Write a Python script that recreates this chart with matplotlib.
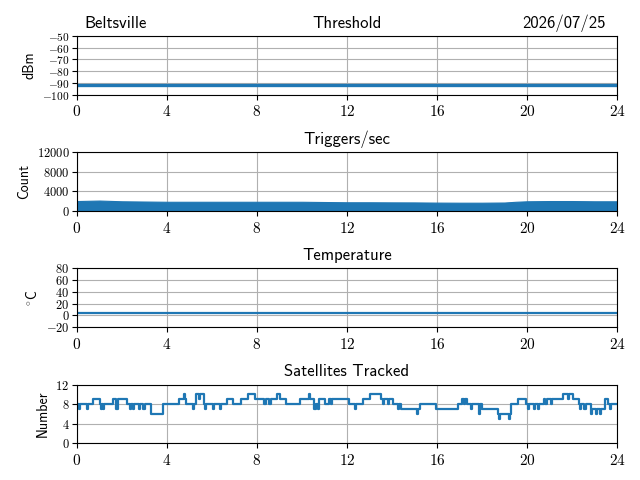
import matplotlib
matplotlib.use("Agg")
import matplotlib.pyplot as plt
from matplotlib.ticker import MultipleLocator, FuncFormatter

plt.rcParams['font.family'] = ['cmss10', 'DejaVu Sans']
plt.rcParams['mathtext.fontset'] = 'cm'
plt.rcParams['mathtext.default'] = 'rm'
plt.rcParams['axes.formatter.use_mathtext'] = True
plt.rcParams['axes.unicode_minus'] = True

# ---- data ----
station = "Beltsville"
date_label = "2026/07/25"
panel_titles = ["Threshold", "Triggers/sec", "Temperature", "Satellites Tracked"]
y_labels = ["dBm", "Count", r"$^{\circ}$C", "Number"]

hour_ticks = [0, 4, 8, 12, 16, 20, 24]

threshold_hours = [0, 24]
threshold_dbm = [-91.8, -91.8]

trigger_hours = [0, 0.5, 1, 2, 3, 4, 5, 6, 7, 8, 9, 10, 11, 12, 13, 14, 15,
                 16, 17, 18, 19, 19.5, 20, 21, 22, 23, 24]
trigger_counts = [2000, 2050, 2100, 1950, 1900, 1850, 1850, 1850, 1850, 1850,
                  1850, 1850, 1800, 1750, 1750, 1730, 1720, 1680, 1660, 1660,
                  1700, 1850, 1950, 2000, 2000, 1950, 1950]

temp_hours = [0, 24]
temp_c = [4.0, 4.0]

sat_hours = [0.0, 0.1, 0.15, 0.45, 0.5, 0.7, 1.0, 1.05, 1.1, 1.15, 1.2, 1.6,
             1.75, 1.8, 2.2, 2.35, 2.4, 2.5, 2.55, 2.75, 2.8, 2.95, 3.0, 3.3,
             3.8, 4.55, 4.75, 4.8, 4.85, 5.15, 5.2, 5.3, 5.4, 5.45, 5.65, 5.7,
             5.75, 6.05, 6.1, 6.35, 6.4, 6.65, 6.95, 7.3, 7.6, 7.9, 8.1, 8.3,
             8.4, 8.55, 8.6, 8.9, 9.0, 9.3, 9.9, 10.3, 10.35, 10.55, 10.6, 10.7,
             10.75, 11.0, 11.2, 11.3, 11.35, 12.1, 12.35, 12.4, 12.7, 13.0,
             13.5, 13.6, 13.65, 13.8, 13.85, 14.05, 14.25, 14.3, 14.4, 15.1,
             15.15, 15.25, 15.95, 16.95, 17.1, 17.2, 17.25, 17.35, 17.5, 17.55,
             17.85, 17.9, 18.0, 18.7, 18.75, 18.8, 19.2, 19.25, 19.3, 19.6,
             19.95, 20.05, 20.1, 20.3, 20.35, 20.5, 20.55, 20.75, 20.8, 20.9,
             21.05, 21.1, 21.6, 21.8, 21.85, 22.05, 22.3, 22.35, 22.4, 22.55,
             22.6, 22.85, 22.9, 23.05, 23.1, 23.25, 23.3, 23.45, 23.6, 23.7,
             23.75, 24.0]
sat_count = [8, 7, 8, 7, 8, 9, 8, 7, 8, 7, 8, 9,
             7, 9, 8, 7, 8, 7, 8, 7, 8, 7, 8, 6,
             8, 9, 10, 9, 8, 7, 8, 10, 9, 10, 8, 7,
             8, 7, 8, 7, 8, 9, 8, 9, 10, 9, 9, 8,
             9, 8, 9, 10, 9, 8, 9, 10, 9, 7, 8, 7,
             9, 8, 9, 8, 9, 8, 7, 8, 9, 10,
             9, 8, 9, 8, 9, 8, 7, 8, 7, 6,
             7, 8, 7, 8, 9, 8, 9, 8, 7, 8,
             6, 8, 7, 6, 5, 6, 5, 6, 8, 9,
             8, 7, 8, 7, 8, 7, 8, 9, 8, 9,
             8, 9, 10, 9, 10, 9, 8, 7, 8, 7,
             8, 6, 7, 6, 7, 6, 7, 9, 8, 7,
             8, 8]

# ---- figure ----
fig = plt.figure(figsize=(6.4, 4.8), dpi=100)
gs = fig.add_gridspec(4, 1, left=77/640, right=617/640, top=1-36/480,
                      bottom=1-443.3/480, hspace=0.985)
axes = [fig.add_subplot(gs[i]) for i in range(4)]
color = '#1f77b4'

math_fmt = FuncFormatter(lambda v, pos: r'$%d$' % round(v))

axes[0].plot(threshold_hours, threshold_dbm, color=color, lw=2.4)
axes[0].set_ylim(-100, -50)
axes[0].yaxis.set_major_locator(MultipleLocator(10))

axes[1].fill_between(trigger_hours, 0, trigger_counts, color=color, lw=0.8,
                     edgecolor=color)
axes[1].set_ylim(0, 12000)
axes[1].yaxis.set_major_locator(MultipleLocator(4000))

axes[2].plot(temp_hours, temp_c, color=color, lw=1.6)
axes[2].set_ylim(-20, 80)
axes[2].yaxis.set_major_locator(MultipleLocator(20))

axes[3].step(sat_hours, sat_count, where='post', color=color, lw=1.6)
axes[3].set_ylim(0, 12)
axes[3].yaxis.set_major_locator(MultipleLocator(4))

for ax, title, yl in zip(axes, panel_titles, y_labels):
    ax.set_xlim(0, 24)
    ax.set_xticks(hour_ticks)
    ax.xaxis.set_major_formatter(math_fmt)
    ax.yaxis.set_major_formatter(math_fmt)
    ax.grid(True)
    ax.set_axisbelow(True)
    ax.set_title(title, fontsize=12)
    ax.set_ylabel(yl, fontsize=10)
    ax.tick_params(axis='y', labelsize=9, pad=2)
    ax.tick_params(axis='x', labelsize=11)

axes[0].tick_params(axis='y', labelsize=8.2)

axes[0].set_title(station, loc='left', fontsize=12, x=0.014)
axes[0].set_title(date_label, loc='right', fontsize=12, x=0.98)

fig.savefig("out.png", dpi=100)
